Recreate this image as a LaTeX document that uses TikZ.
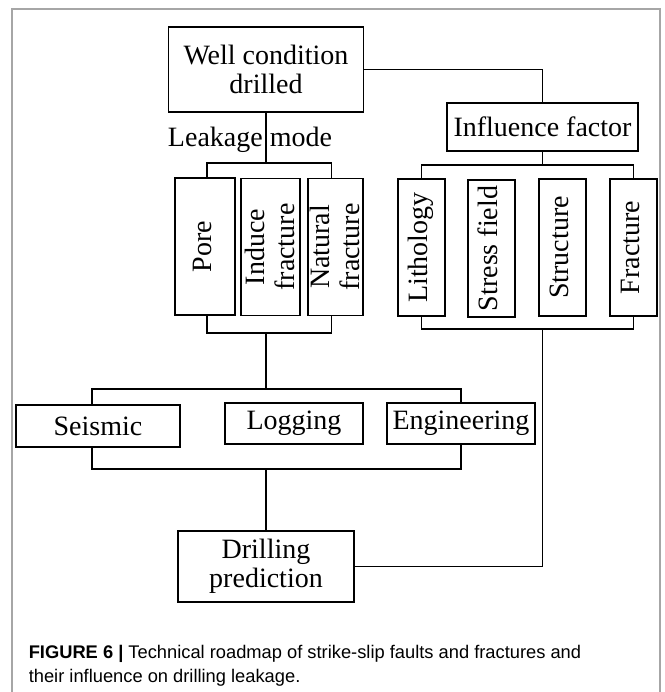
\documentclass[tikz,border=0pt]{standalone}
\usepackage{graphicx}
\usepackage{fontspec}
\setmainfont{Liberation Serif}
\newfontfamily\capfont{Liberation Sans}
\newcommand{\vtext}[1]{\makebox[0pt]{\rotatebox{90}{\begin{tabular}{@{}c@{}}#1\end{tabular}}}}
\newcommand{\vtwo}[2]{\makebox[0pt]{\hspace{6pt}\rotatebox{90}{\begin{tabular}{@{}c@{}}#1\\#2\end{tabular}}}}

\begin{document}
\begin{tikzpicture}[x=1pt,y=-1pt,line width=1.6pt,
    box/.style={draw,inner sep=0pt,align=center,
        font={\fontsize{28}{29}\selectfont}},
    vbox/.style={box,minimum height=137pt,
        font={\fontsize{28}{30}\selectfont}},
    label/.style={inner sep=0pt,font={\fontsize{28}{29}\selectfont}},
    caption/.style={inner sep=0pt,anchor=base west,
        font={\capfont\fontsize{18.3}{24}\selectfont}},
    frame/.style={black!35,line width=2.5pt}]
\useasboundingbox (0,0) rectangle (664,692);
\draw[frame] (12,692) -- (12,9) -- (660,9) -- (660,692);

% top
\node[box,minimum width=195pt,minimum height=85pt] (well) at (266,69.5) {Well condition\\drilled};
\node[box,minimum width=191pt,minimum height=48pt] (influence) at (542.5,127) {Influence factor};
\node[label,anchor=base] (leak) at (250,147) {Leakage mode};

% leakage modes
\node[vbox,minimum width=60pt] (pore) at (205,246.5) {\vtext{Pore}};
\node[vbox,minimum width=59pt] (induce) at (270.5,247) {\vtwo{Induce}{fracture}};
\node[vbox,minimum width=55pt] (natural) at (335.5,247) {\vtwo{Natural}{fracture}};

% influence factors
\node[vbox,minimum width=47pt] (litho) at (421.5,247.5) {\vtext{Lithology}};
\node[vbox,minimum width=47pt] (stress) at (491.5,248.5) {\vtext{Stress field}};
\node[vbox,minimum width=47pt] (struct) at (562.5,247.5) {\vtext{Structure}};
\node[vbox,minimum width=47pt] (fract) at (633.5,247.5) {\vtext{Fracture}};

% methods
\node[box,minimum width=164pt,minimum height=42pt] (seismic) at (98,426) {Seismic};
\node[box,minimum width=138pt,minimum height=41pt] (logging) at (294,423.5) {Logging};
\node[box,minimum width=148pt,minimum height=41pt] (engin) at (461,423.5) {Engineering};

\node[box,minimum width=176pt,minimum height=71pt] (drill) at (266,566.5) {Drilling\\prediction};

\coordinate (lkbar) at (266,163);
\coordinate (lkjoin) at (266,333);
\coordinate (ifbar) at (542.5,165);
\coordinate (ifjoin) at (542.5,329);
\coordinate (mbar) at (266,389);
\coordinate (mjoin) at (266,469);

\draw (well.east) -| (influence.north);
\draw (well.south) -- (lkbar);
\draw ([xshift=2pt]pore.north) |- (lkbar) -| ([xshift=-4pt]natural.north);
\draw ([xshift=2pt]pore.south) |- (lkjoin) -| ([xshift=-4pt]natural.south);
\draw (lkjoin) -- (mbar);

\draw (influence.south) -- (ifbar);
\draw (litho.north) |- (ifbar) -| (fract.north);
\draw (litho.south) |- (ifjoin) -| (fract.south);
\draw (ifjoin) |- (drill.east);

\draw ([xshift=-6pt]seismic.north) |- (mbar) -| (engin.north);
\draw ([xshift=-6pt]seismic.south) |- (mjoin) -| (engin.south);
\draw (mjoin) -- (drill.north);

% caption
\node[caption] (cap1) at (28,658) {\textbf{FIGURE 6 |} Technical roadmap of strike-slip faults and fractures and};
\node[caption] (cap2) at (28,682) {their influence on drilling leakage.};
\end{tikzpicture}
\end{document}
